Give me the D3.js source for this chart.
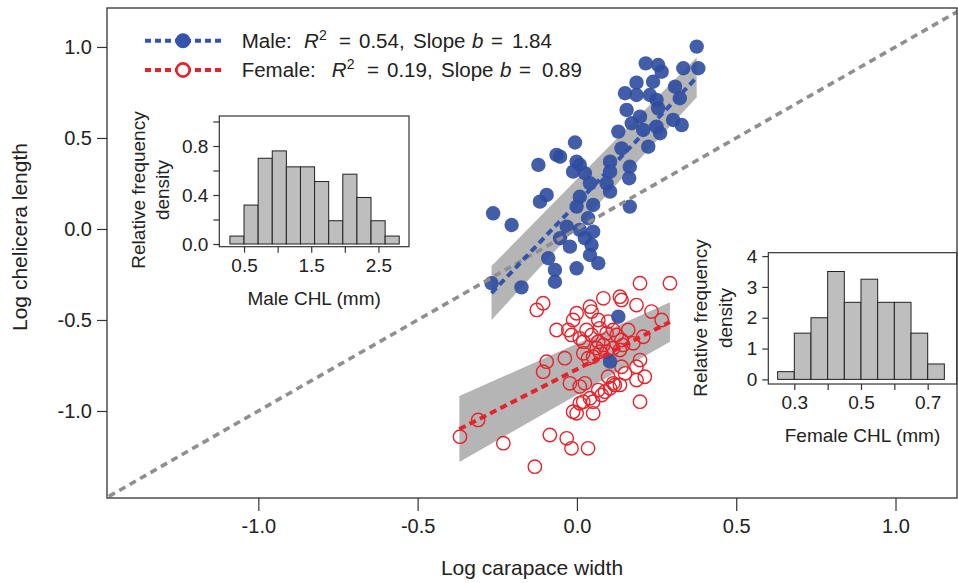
<!DOCTYPE html>
<html>
<head>
<meta charset="utf-8">
<script src="https://cdn.jsdelivr.net/npm/d3@7"></script>
<style>
    body { margin: 0; background: #fff; }
    svg text { font-family: "Liberation Sans", Arial, sans-serif; fill: #222; }
</style>
</head>
<body>
<svg class="chart_svg" width="958" height="583"></svg>
<script>
/* Scatter data (log carapace width, log chelicera length) */
let male_x = [0.376, 0.216, 0.255, 0.266, 0.334, 0.381, 0.187, 0.239, 0.151, 0.187, 0.229, 0.308, 0.323, 0.250,
    0.156, 0.198, 0.255, 0.302, 0.329, 0.172, 0.208, 0.250, 0.261, 0.130, 0.140, 0.224, -0.006, -0.064, -0.053,
    -0.001, -0.121, 0.104, 0.166, 0.009, -0.012, 0.025, 0.104, 0.164, 0.041, 0.093, 0.104, 0.009, 0.051, -0.001,
    -0.095, -0.116, -0.263, -0.205, 0.166, 0.035, -0.032, -0.053, 0.009, 0.051, 0.025, -0.022, 0.046, 0.041, 0.067,
    -0.090, -0.069, -0.001, -0.069, -0.268, -0.174, 0.130, 0.104];
let male_y = [1.002, 0.910, 0.901, 0.864, 0.883, 0.883, 0.804, 0.809, 0.746, 0.736, 0.736, 0.782, 0.718, 0.709,
    0.654, 0.617, 0.663, 0.599, 0.571, 0.581, 0.544, 0.562, 0.526, 0.535, 0.443, 0.452, 0.475, 0.407, 0.397,
    0.370, 0.352, 0.370, 0.342, 0.352, 0.315, 0.306, 0.315, 0.279, 0.251, 0.251, 0.205, 0.177, 0.132, 0.123,
    0.187, 0.150, 0.086, 0.022, 0.123, 0.059, 0.013, -0.051, -0.005, -0.015, -0.051, -0.097, -0.088, -0.143, -0.188,
    -0.161, -0.225, -0.216, -0.290, -0.298, -0.321, -0.482, -0.729];

let female_x = [0.198, 0.292, -0.106, -0.126, 0.083, 0.135, 0.140, 0.041, 0.046, 0.187, 0.234, 0.266, -0.001,
    -0.012, 0.067, 0.098, -0.064, -0.027, -0.017, 0.030, 0.046, 0.072, 0.093, 0.114, 0.125, 0.161, 0.208, 0.009,
    0.020, 0.067, 0.083, 0.140, 0.145, 0.135, 0.114, 0.177, 0.062, 0.072, 0.093, 0.020, 0.035, 0.051, -0.038,
    -0.095, -0.106, 0.198, 0.187, 0.140, 0.151, 0.213, 0.187, 0.098, 0.114, 0.135, -0.022, 0.009, 0.025, 0.067,
    0.088, 0.104, 0.119, 0.041, 0.020, 0.009, 0.051, 0.078, 0.198, -0.012, -0.001, 0.051, -0.310, -0.367, -0.231,
    -0.085, -0.032, -0.017, 0.035, -0.132];
let female_y = [-0.298, -0.298, -0.408, -0.445, -0.381, -0.372, -0.390, -0.427, -0.454, -0.418, -0.454, -0.500,
    -0.463, -0.500, -0.500, -0.509, -0.555, -0.555, -0.582, -0.555, -0.582, -0.546, -0.573, -0.555, -0.582, -0.555,
    -0.592, -0.601, -0.619, -0.619, -0.637, -0.610, -0.637, -0.665, -0.655, -0.628, -0.655, -0.674, -0.674, -0.683,
    -0.710, -0.702, -0.710, -0.729, -0.784, -0.720, -0.757, -0.757, -0.793, -0.812, -0.830, -0.812, -0.848, -0.857,
    -0.848, -0.866, -0.848, -0.885, -0.894, -0.875, -0.857, -0.930, -0.949, -0.958, -0.949, -0.912, -0.949, -1.004,
    -1.013, -1.013, -1.049, -1.141, -1.177, -1.132, -1.150, -1.205, -1.205, -1.306];

/* Fitted lines: slope, intercept and x extent */
let male_fit = [1.84, 0.141, -0.268, 0.376];
let female_fit = [0.89, -0.771, -0.369, 0.292];

/* Shaded bands round the fits at both ends */
let male_band_x = [-0.268, 0.376];
let male_band_lo = [-0.500, 0.723];
let male_band_hi = [-0.204, 0.943];
let female_band_x = [-0.369, 0.292];
let female_band_lo = [-1.280, -0.619];
let female_band_hi = [-0.918, -0.403];

/* Histograms (bin edges, relative frequency density) */
let male_bins = [0.29, 0.50, 0.71, 0.92, 1.13, 1.34, 1.55, 1.76, 1.97, 2.18, 2.39, 2.60, 2.81];
let male_density = [0.065, 0.318, 0.70, 0.76, 0.63, 0.63, 0.51, 0.19, 0.57, 0.38, 0.19, 0.065];
let female_bins = [0.25, 0.30, 0.35, 0.40, 0.45, 0.50, 0.55, 0.60, 0.65, 0.70, 0.75];
let female_density = [0.25, 1.5, 2.0, 3.5, 2.5, 3.25, 2.5, 2.5, 1.5, 0.5];

/* Tick values */
let main_ticks = [-1.0, -0.5, 0.0, 0.5, 1.0];
let male_hist_xticks = [0.5, 1.0, 1.5, 2.0, 2.5];
let male_hist_xlabels = [0.5, 1.5, 2.5];
let male_hist_yticks = [0, 0.2, 0.4, 0.6, 0.8, 1.0];
let male_hist_ylabels = [0, 0.4, 0.8];
let female_hist_xticks = [0.3, 0.4, 0.5, 0.6, 0.7];
let female_hist_xlabels = [0.3, 0.5, 0.7];
let female_hist_yticks = [0, 1, 2, 3, 4];

let BLUE = "#2f4d9f";
let RED = "#e8222b";
let BAND = "#b5b5b5";
let AXIS = "#333";

let svg = d3.select("svg.chart_svg");

let x = d3.scaleLinear().domain([-1.475, 1.193]).range([107, 957]);
let y = d3.scaleLinear().domain([-1.478, 1.214]).range([498, 8]);

svg.append("clipPath").attr("id", "plot_clip")
    .append("rect")
    .attr("x", 107).attr("y", 8).attr("width", 850).attr("height", 490);

let plot = svg.append("g").attr("clip-path", "url(#plot_clip)");

// shaded bands
function draw_band(xs, lo, hi){
    let pts = xs.map(function(d, i){ return {x: d, lo: lo[i], hi: hi[i]}; });
    plot.append("path")
        .datum(pts)
        .attr("fill", BAND)
        .attr("d", d3.area()
            .x(function(d){ return x(d.x); })
            .y0(function(d){ return y(d.lo); })
            .y1(function(d){ return y(d.hi); }));
}
draw_band(male_band_x, male_band_lo, male_band_hi);
draw_band(female_band_x, female_band_lo, female_band_hi);

// female: open circles
plot.append("g").selectAll("circle")
    .data(female_x)
    .enter()
    .append("circle")
    .attr("cx", function(d){ return x(d); })
    .attr("cy", function(d, i){ return y(female_y[i]); })
    .attr("r", 6.7)
    .attr("fill", "none")
    .attr("stroke", RED)
    .attr("stroke-width", 1.4);

// male: filled circles
plot.append("g").selectAll("circle")
    .data(male_x)
    .enter()
    .append("circle")
    .attr("cx", function(d){ return x(d); })
    .attr("cy", function(d, i){ return y(male_y[i]); })
    .attr("r", 7.2)
    .attr("fill", BLUE)
    .attr("fill-opacity", 0.9);

// isometry line y = x
plot.append("line")
    .attr("x1", x(-1.6)).attr("y1", y(-1.6))
    .attr("x2", x(1.3)).attr("y2", y(1.3))
    .attr("stroke", "#8f8f8f")
    .attr("stroke-width", 3.6)
    .attr("stroke-dasharray", "7,5");

// fitted lines
function draw_fit(fit, color){
    plot.append("line")
        .attr("x1", x(fit[2])).attr("y1", y(fit[1] + fit[0] * fit[2]))
        .attr("x2", x(fit[3])).attr("y2", y(fit[1] + fit[0] * fit[3]))
        .attr("stroke", color)
        .attr("stroke-width", 4)
        .attr("stroke-dasharray", "7,4.5");
}
draw_fit(male_fit, "#3453ac");
draw_fit(female_fit, RED);

/* Axes */
let fmt = function(d){ return d.toFixed(1); };

let y_axis = svg.append("g")
    .attr("transform", "translate(107,0)")
    .call(d3.axisLeft(y).tickValues(main_ticks).tickFormat(fmt).tickSize(10).tickPadding(5));
let x_axis = svg.append("g")
    .attr("transform", "translate(0,498)")
    .call(d3.axisBottom(x).tickValues(main_ticks).tickFormat(fmt).tickSize(13).tickPadding(8));

[y_axis, x_axis].forEach(function(a){
    a.select(".domain").remove();
    a.selectAll("line").attr("stroke", AXIS).attr("stroke-width", 1.2);
    a.selectAll("text").attr("font-size", "20px").attr("fill", "#222")
        .style("font-family", "'Liberation Sans', Arial, sans-serif");
});

svg.append("rect")
    .attr("x", 107).attr("y", 8).attr("width", 850).attr("height", 490)
    .attr("fill", "none").attr("stroke", AXIS).attr("stroke-width", 1.3);

svg.append("text")
    .attr("x", 532).attr("y", 575)
    .attr("text-anchor", "middle")
    .attr("font-size", "21px")
    .text("Log carapace width");

svg.append("text")
    .attr("transform", "translate(27,237) rotate(-90)")
    .attr("text-anchor", "middle")
    .attr("font-size", "21px")
    .text("Log chelicera length");

/* Legend */
let legend = svg.append("g");
let legend_rows = [
    {y: 40.7, color: "#3453ac", filled: true, label: "Male:", r2: "0.54,", b: "1.84",
        pos: [241.7, 304, 319, 339, 359, 413, 472, 491, 512]},
    {y: 70, color: RED, filled: false, label: "Female:", r2: "0.19,", b: "0.89",
        pos: [241.7, 331.7, 346.7, 367, 387, 441, 500, 519, 542]}
];
legend_rows.forEach(function(row){
    legend.append("line")
        .attr("x1", 145).attr("x2", 223)
        .attr("y1", row.y).attr("y2", row.y)
        .attr("stroke", row.color)
        .attr("stroke-width", 4)
        .attr("stroke-dasharray", "6,4");
    legend.append("circle")
        .attr("cx", 183).attr("cy", row.y)
        .attr("r", row.filled ? 7.5 : 6.6)
        .attr("fill", row.filled ? row.color : "#fff")
        .attr("stroke", row.color)
        .attr("stroke-width", row.filled ? 0 : 2.6);
    let t = legend.append("text").attr("y", row.y + 7).attr("font-size", "20.5px");
    let p = row.pos;
    t.append("tspan").attr("x", p[0]).text(row.label);
    t.append("tspan").attr("x", p[1]).attr("font-style", "italic").text("R");
    t.append("tspan").attr("x", p[2]).attr("dy", -8).attr("font-size", "14px").text("2");
    t.append("tspan").attr("x", p[3]).attr("dy", 8).text("=");
    t.append("tspan").attr("x", p[4]).text(row.r2);
    t.append("tspan").attr("x", p[5]).text("Slope");
    t.append("tspan").attr("x", p[6]).attr("font-style", "italic").text("b");
    t.append("tspan").attr("x", p[7]).text("=");
    t.append("tspan").attr("x", p[8]).text(row.b);
});

/* Histogram insets */
function draw_hist(opt){
    let hx = d3.scaleLinear().domain(opt.xdom).range([opt.left, opt.right]);
    let hy = d3.scaleLinear().domain(opt.ydom).range([opt.bottom, opt.top]);
    let g = svg.append("g");

    g.append("rect")
        .attr("x", opt.left).attr("y", opt.top)
        .attr("width", opt.right - opt.left).attr("height", opt.bottom - opt.top)
        .attr("fill", "#fff");

    g.selectAll("rect.bar")
        .data(opt.density)
        .enter()
        .append("rect")
        .classed("bar", true)
        .attr("x", function(d, i){ return hx(opt.bins[i]); })
        .attr("width", function(d, i){ return hx(opt.bins[i + 1]) - hx(opt.bins[i]); })
        .attr("y", function(d){ return hy(d); })
        .attr("height", function(d){ return hy(0) - hy(d); })
        .attr("fill", "#bebebe")
        .attr("stroke", "#222")
        .attr("stroke-width", 1);

    g.append("rect")
        .attr("x", opt.left).attr("y", opt.top)
        .attr("width", opt.right - opt.left).attr("height", opt.bottom - opt.top)
        .attr("fill", "none").attr("stroke", AXIS).attr("stroke-width", 1.2);

    let ax = g.append("g")
        .attr("transform", "translate(0," + opt.bottom + ")")
        .call(d3.axisBottom(hx).tickValues(opt.xticks).tickSize(6).tickPadding(6)
            .tickFormat(function(d){ return opt.xlabels.indexOf(d) === -1 ? "" : d.toFixed(1); }));
    let ay = g.append("g")
        .attr("transform", "translate(" + opt.left + ",0)")
        .call(d3.axisLeft(hy).tickValues(opt.yticks).tickSize(6).tickPadding(5)
            .tickFormat(function(d){ return opt.ylabels.indexOf(d) === -1 ? "" : opt.yfmt(d); }));
    [ax, ay].forEach(function(a){
        a.select(".domain").remove();
        a.selectAll("line").attr("stroke", AXIS).attr("stroke-width", 1.2);
        a.selectAll("text").attr("font-size", "19px").attr("fill", "#222")
            .style("font-family", "'Liberation Sans', Arial, sans-serif");
    });

    g.append("text")
        .attr("x", (opt.left + opt.right) / 2).attr("y", opt.bottom + 58)
        .attr("text-anchor", "middle").attr("font-size", "19px")
        .text(opt.title);
    g.append("text")
        .attr("transform", "translate(" + opt.ylab_x[0] + "," + opt.ylab_y + ") rotate(-90)")
        .attr("text-anchor", "middle").attr("font-size", "19px")
        .text("Relative frequency");
    g.append("text")
        .attr("transform", "translate(" + opt.ylab_x[1] + "," + opt.ylab_y + ") rotate(-90)")
        .attr("text-anchor", "middle").attr("font-size", "19px")
        .text("density");
}

draw_hist({
    bins: male_bins, density: male_density,
    xdom: [0.132, 2.955], ydom: [-0.022, 1.045],
    left: 219.3, right: 409, top: 116, bottom: 246.7,
    xticks: male_hist_xticks, xlabels: male_hist_xlabels,
    yticks: male_hist_yticks, ylabels: male_hist_ylabels,
    yfmt: function(d){ return d.toFixed(1); },
    title: "Male CHL (mm)", ylab_x: [145, 169], ylab_y: 190
});

draw_hist({
    bins: female_bins, density: female_density,
    xdom: [0.222, 0.787], ydom: [-0.15, 4.11],
    left: 768.3, right: 956.7, top: 252.7, bottom: 384,
    xticks: female_hist_xticks, xlabels: female_hist_xlabels,
    yticks: female_hist_yticks, ylabels: female_hist_yticks,
    yfmt: function(d){ return d.toString(); },
    title: "Female CHL (mm)", ylab_x: [707, 732], ylab_y: 318
});
</script>
</body>
</html>
